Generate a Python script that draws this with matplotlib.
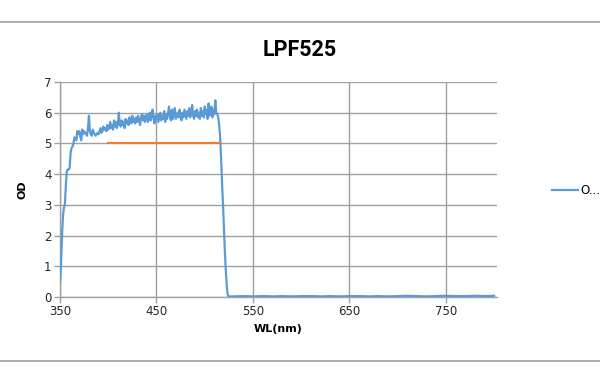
import matplotlib
matplotlib.use("Agg")
import matplotlib.pyplot as plt
import numpy as np
from matplotlib.lines import Line2D

# measured spectrum, 1 nm steps 350..525
wl_band = np.arange(350, 526)
od_band = [
    0.45, 1.0, 1.9, 2.6, 2.9, 3.0, 3.6, 4.1, 4.15, 4.15, 4.2, 4.7, 4.85, 4.9, 5.0,
    5.2, 5.15, 5.1, 5.4, 5.3, 5.4, 5.25, 5.1, 5.45, 5.3, 5.4, 5.35, 5.3, 5.25, 5.5,
    5.9, 5.4, 5.3, 5.25, 5.45, 5.35, 5.3, 5.25, 5.3, 5.35, 5.3, 5.4, 5.5, 5.35, 5.4,
    5.55, 5.45, 5.5, 5.4, 5.6, 5.45, 5.5, 5.7, 5.5, 5.6, 5.45, 5.75, 5.55, 5.7, 5.5,
    5.65, 6.0, 5.6, 5.55, 5.75, 5.6, 5.7, 5.5, 5.8, 5.65, 5.75, 5.6, 5.85, 5.7, 5.65,
    5.9, 5.7, 5.8, 5.65, 5.85, 5.7, 5.9, 5.75, 5.6, 5.85, 5.95, 5.75, 5.9, 5.7, 5.85,
    5.95, 5.7, 5.8, 6.0, 5.75, 5.9, 6.1, 5.8, 5.65, 5.9, 5.8, 5.95, 5.7, 5.85, 6.0,
    5.75, 5.9, 5.8, 6.05, 5.7, 5.95, 5.8, 6.0, 6.2, 5.85, 5.75, 6.1, 5.8, 5.95, 6.15,
    5.8, 5.9, 6.0, 5.85, 6.1, 5.9, 5.75, 6.0, 5.85, 6.1, 5.95, 5.8, 6.05, 5.9, 6.15,
    5.85, 6.0, 6.25, 5.9, 5.8, 6.05, 5.9, 6.1, 5.85, 6.0, 5.8, 6.15, 5.9, 6.05, 5.85,
    6.2, 5.95, 6.1, 5.8, 6.3, 5.9, 6.0, 6.2, 5.85, 6.1, 5.95, 6.4, 6.0, 5.95, 5.85,
    5.6, 5.2, 4.5, 3.7, 3.0, 2.2, 1.4, 0.8, 0.3, 0.05, 0.02,
]
# blocked region, sparser
wl_tail = [530, 540, 550, 560, 570, 580, 590, 600, 610, 620, 630, 640, 650, 660,
           670, 680, 690, 700, 710, 720, 730, 740, 750, 760, 770, 780, 790, 800]
od_tail = [0.02, 0.03, 0.02, 0.03, 0.02, 0.03, 0.02, 0.03, 0.03, 0.02, 0.03, 0.02,
           0.03, 0.03, 0.02, 0.03, 0.02, 0.03, 0.04, 0.03, 0.02, 0.03, 0.04, 0.03,
           0.03, 0.04, 0.03, 0.04]

# spec line
spec_wl = [400, 516]
spec_od = [5, 5]

wl = list(wl_band) + wl_tail
od = od_band + od_tail

BLUE = "#5B9BD5"
ORANGE = "#ED7D31"
GRID = "#A0A0A0"

fig = plt.figure(figsize=(6, 3.83), dpi=100)
ax = fig.add_axes([60/600, 1-297/383, (497-60)/600, (297-82)/383])

ax.plot(wl, od, color=BLUE, lw=1.6, label="O...", zorder=3)
ax.plot(spec_wl, spec_od, color=ORANGE, lw=1.5, zorder=3)

ax.set_xlim(350, 803)
ax.set_ylim(0, 7)
ax.set_xticks([350, 450, 550, 650, 750])
ax.set_yticks(range(0, 8))
ax.grid(True, color=GRID, lw=1.0)
for s in ["top", "right"]:
    ax.spines[s].set_visible(False)
for s in ["left", "bottom"]:
    ax.spines[s].set_color(GRID)
    ax.spines[s].set_linewidth(1.0)
ax.tick_params(length=4, width=1.0, color=GRID, labelsize=8.5, labelcolor="#262626", pad=2)
ax.set_xlabel("WL(nm)", fontsize=8, fontweight="bold", labelpad=4)
ax.set_ylabel("OD", fontsize=8, fontweight="bold", labelpad=12)

fig.text(0.5, 1-50/383, "LPF525", ha="center", va="center",
         fontsize=15.5, fontweight="bold", family="Roboto")

ax.legend(loc="center left", bbox_to_anchor=(552/600, 1-191/383),
          bbox_transform=fig.transFigure, frameon=False, fontsize=8.5,
          handlelength=2.2, handletextpad=0.2, borderpad=0, borderaxespad=0)

# chart border lines
for yy in (1-22/383, 1-361/383):
    fig.add_artist(Line2D([0, 1], [yy, yy], transform=fig.transFigure,
                          color="#A0A0A0", lw=1.2))

fig.savefig("out.png", dpi=100)
